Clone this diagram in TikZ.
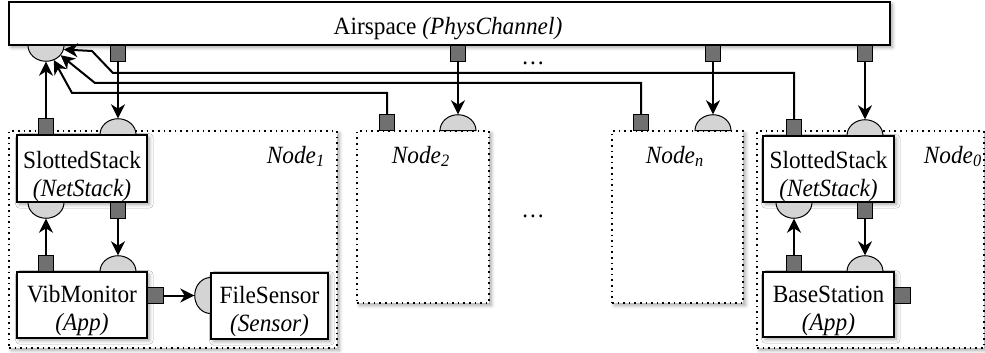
\documentclass[tikz,border=0pt]{standalone}
\usepackage{fontspec}
\setmainfont{Liberation Serif}[FakeStretch=0.94]
\usetikzlibrary{shapes.geometric,arrows.meta,shadows.blur}
\definecolor{portdark}{HTML}{707070}
\definecolor{portlight}{HTML}{D4D4D4}
\newcommand{\figfont}{\fontsize{12.4}{14}\selectfont}

\begin{document}
\begin{tikzpicture}[x=0.5pt,y=-0.5pt,
    every node/.style={font=\figfont},
    soft/.style={blur shadow={shadow blur steps=6,shadow xshift=1.2pt,shadow yshift=-1.2pt,shadow opacity=35}},
    comp/.style={draw,line width=0.6pt,fill=white,inner sep=0pt,soft},
    cont/.style={draw,dotted,line width=0.8pt,fill=white,inner sep=0pt,soft},
    txt/.style={inner sep=0pt,align=center,anchor=base},
    outport/.style={draw,line width=0.5pt,fill=portdark,minimum size=7.8pt,inner sep=0pt},
    inport/.style={semicircle,draw,line width=0.5pt,fill=portlight,minimum width=18pt,inner sep=0pt,anchor=chord center,yscale=0.88},
    sideport/.style={semicircle,draw,line width=0.5pt,fill=portlight,minimum width=18pt,inner sep=0pt,anchor=chord center,shape border rotate=90,xscale=0.88},
    wire/.style={line width=1pt,-{Stealth[length=7pt,width=7pt,inset=2.2pt]}},
    lbl/.style={font=\figfont\itshape,anchor=base}]
  \useasboundingbox (0,0) rectangle (985,353);

  \node[cont,minimum width=164pt,minimum height=108.5pt] (node1) at (173,239.5) {};
  \node[cont,minimum width=66pt,minimum height=86pt] (node2) at (423,217) {};
  \node[cont,minimum width=65.5pt,minimum height=86pt] (noden) at (677.5,217) {};
  \node[cont,minimum width=113.5pt,minimum height=108.5pt] (node0) at (870.5,239.5) {};
  \node[lbl] (lab1) at (296,163) {Node\textsubscript{1}};
  \node[lbl] (lab2) at (421,163) {Node\textsubscript{2}};
  \node[lbl] (labn) at (675,163) {Node\textsubscript{n}};
  \node[lbl] (lab0) at (953,163) {Node\textsubscript{0}};
  \node (dots1) at (533,63) {\dots};
  \node (dots2) at (533,216) {\dots};

  \node[comp,minimum width=440.5pt,minimum height=21.5pt] (air) at (449.5,23.5) {};
  \node[txt] (airtxt) at (448,35) {Airspace \textit{(PhysChannel)}};
  \node[comp,minimum width=65pt,minimum height=33.5pt] (stack1) at (82,168.5) {};
  \node[txt] (stack1txt) at (82,197) {SlottedStack\\\textit{(NetStack)}};
  \node[comp,minimum width=65pt,minimum height=33pt] (app1) at (82,305) {};
  \node[txt] (app1txt) at (82,330) {VibMonitor\\\textit{(App)}};
  \node[comp,minimum width=58.5pt,minimum height=33pt] (sens1) at (269.5,306) {};
  \node[txt] (sens1txt) at (269.5,331) {FileSensor\\\textit{(Sensor)}};
  \node[comp,minimum width=65.5pt,minimum height=33pt] (stack0) at (828.5,169) {};
  \node[txt] (stack0txt) at (828.5,197) {SlottedStack\\\textit{(NetStack)}};
  \node[comp,minimum width=65.5pt,minimum height=32.5pt] (app0) at (828.5,304.5) {};
  \node[txt] (app0txt) at (828.5,330) {BaseStation\\\textit{(App)}};

  \node[inport,shape border rotate=180] (ain) at (46,45) {};
  \node[inport] (s1in) at (118,135) {};
  \node[inport,shape border rotate=180] (s1bin) at (46,202) {};
  \node[inport] (vin) at (118,272) {};
  \node[sideport] (fin) at (211,295.5) {};
  \node[inport] (n2in) at (458,131) {};
  \node[inport] (nnin) at (713,131) {};
  \node[inport] (s0in) at (865,136) {};
  \node[inport,shape border rotate=180] (s0bin) at (794,202) {};
  \node[inport] (bin) at (865,272) {};

  \node[outport,anchor=north] (aout1) at (118,45) {};
  \node[outport,anchor=north] (aout2) at (458,45) {};
  \node[outport,anchor=north] (aout3) at (713,45) {};
  \node[outport,anchor=north] (aout4) at (865,45) {};
  \node[outport,anchor=south] (s1out) at (46,135) {};
  \node[outport,anchor=north] (s1bout) at (118,202) {};
  \node[outport,anchor=south] (vout) at (46,272) {};
  \node[outport,anchor=west] (vrout) at (147,295.5) {};
  \node[outport,anchor=south] (n2out) at (387,131) {};
  \node[outport,anchor=south] (nnout) at (641,131) {};
  \node[outport,anchor=south] (s0out) at (794,136) {};
  \node[outport,anchor=north] (s0bout) at (865,202) {};
  \node[outport,anchor=south] (bout) at (794,272) {};
  \node[outport,anchor=west] (brout) at (894,295.5) {};

  \draw[wire] (aout1) -- (s1in.apex);
  \draw[wire] (aout2) -- (n2in.apex);
  \draw[wire] (aout3) -- (nnin.apex);
  \draw[wire] (aout4) -- (s0in.apex);
  \draw[wire] (s1out) -- (ain.apex);
  \draw[wire] (n2out.north) |- (72,93) -- ([shift={(7.8,15)}]ain.chord center);
  \draw[wire] (nnout.north) |- (95,83) -- ([shift={(14.6,10.2)}]ain.chord center);
  \draw[wire] (s0out.north) |- (113,73) -- (92,51) -- ([shift={(17.8,4.5)}]ain.chord center);
  \draw[wire] (vout) -- (s1bin.apex);
  \draw[wire] (s1bout) -- (vin.apex);
  \draw[wire] (vrout) -- (fin.apex);
  \draw[wire] (bout) -- (s0bin.apex);
  \draw[wire] (s0bout) -- (bin.apex);
\end{tikzpicture}
\end{document}
